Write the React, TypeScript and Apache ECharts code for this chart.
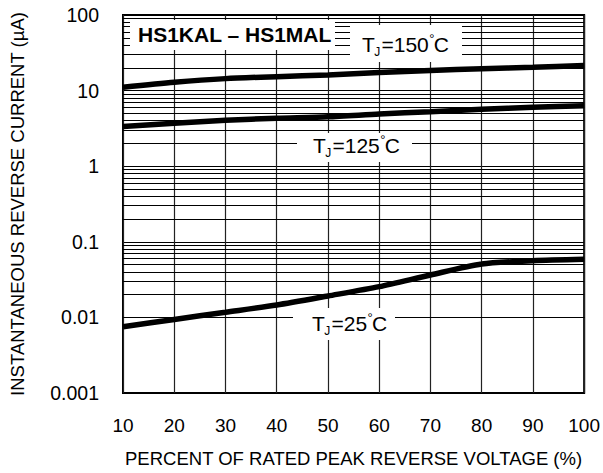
import React, { useEffect, useRef } from "react";
import * as echarts from "echarts";

const FONT = "'Liberation Sans', Arial, Helvetica, sans-serif";

const xCategories = [10, 20, 30, 40, 50, 60, 70, 80, 90, 100];
const tj150 = [11.1, 12.9, 14.4, 15.3, 16.1, 17.3, 18.5, 19.4, 20.3, 21.4];
const tj125 = [3.35, 3.7, 4.05, 4.3, 4.5, 4.9, 5.26, 5.66, 6.0, 6.3];
const tj25 = [0.0075, 0.0094, 0.0117, 0.0146, 0.0192, 0.0255, 0.0364, 0.0508, 0.0562, 0.0587];
const yTickLabels = ["0.001", "0.01", "0.1", "1", "10", "100"];
const decades = [0.001, 0.01, 0.1, 1, 10];
const minorMultipliers = [2, 3, 4, 5, 6, 7, 8, 9];
const xTitle = "PERCENT OF RATED PEAK REVERSE VOLTAGE (%)";
const yTitle = "INSTANTANEOUS REVERSE CURRENT (\u00B5A)";
const chartTitle = "HS1KAL \u2013 HS1MAL";
const tempLabels = ["150", "125", "25"];

function tjLabel(x: number, yc: number, temp: string) {
  const big = 21;
  const eqW = 0.584 * big + 0.556 * big * temp.length;
  const base = { fontFamily: FONT, fill: "#000", align: "left", verticalAlign: "middle" };
  return [
    { type: "text", x, y: yc, z: 101, style: { ...base, text: "T", fontSize: big } },
    { type: "text", x: x + 12.3, y: yc + 8, z: 101, style: { ...base, text: "J", fontSize: 12 } },
    { type: "text", x: x + 19.5, y: yc, z: 101, style: { ...base, text: "=" + temp, fontSize: big } },
    { type: "text", x: x + 19.5 + eqW + 0.5, y: yc - 6, z: 101, style: { ...base, text: "\u00B0", fontSize: 13 } },
    { type: "text", x: x + 19.5 + eqW + 5, y: yc, z: 101, style: { ...base, text: "C", fontSize: big } },
  ];
}

function whiteBox(x1: number, y1: number, x2: number, y2: number) {
  return {
    type: "rect",
    z: 100,
    shape: { x: x1, y: y1, width: x2 - x1, height: y2 - y1 },
    style: { fill: "#fff", stroke: "none" },
  };
}

export default function App() {
  const ref = useRef<HTMLDivElement>(null);
  useEffect(() => {
    if (!ref.current) return;
    const chart = echarts.init(ref.current, null, { renderer: "svg" });
    const minorLines: any[] = [];
    decades.forEach((d) => minorMultipliers.forEach((m) => minorLines.push({ yAxis: +(d * m).toPrecision(3) })));
    const lineSeries = (name: string, values: number[]) => ({
      name,
      type: "line",
      data: xCategories.map((x, i) => [x, values[i]]),
      symbol: "none",
      smooth: 0.25,
      lineStyle: { color: "#000", width: 5.5 },
      z: 5,
    });
    const s25: any = lineSeries("25", tj25);
    s25.markLine = {
      silent: true,
      symbol: "none",
      label: { show: false },
      lineStyle: { color: "#000", width: 1, type: "solid" },
      data: minorLines,
      z: 1,
    };
    chart.setOption({
      animation: false,
      grid: {
        left: 120,
        right: 15,
        top: 15,
        bottom: 80,
        show: true,
        borderColor: "#000",
        borderWidth: 2,
      },
      xAxis: {
        type: "value",
        min: 10,
        max: 100,
        interval: 10,
        axisLine: { show: false },
        axisTick: { show: false },
        splitLine: { show: true, lineStyle: { color: "#222", width: 1.2 } },
        axisLabel: { color: "#000", fontSize: 19, fontFamily: FONT, margin: 23 },
        name: xTitle,
        nameLocation: "middle",
        nameGap: 56,
        nameTextStyle: { color: "#000", fontSize: 18.5, fontFamily: FONT },
      },
      yAxis: {
        type: "log",
        logBase: 10,
        min: 0.001,
        max: 100,
        axisLine: { show: false },
        axisTick: { show: false },
        splitLine: { show: true, lineStyle: { color: "#000", width: 1.2 } },
        axisLabel: {
          color: "#000",
          fontSize: 19.5,
          fontFamily: FONT,
          margin: 24,
          formatter: (v: number) => yTickLabels[Math.round(Math.log10(v)) + 3] ?? "",
        },
        name: yTitle,
        nameLocation: "middle",
        nameGap: 96,
        nameTextStyle: { color: "#000", fontSize: 18.5, fontFamily: FONT },
      },
      series: [lineSeries("150", tj150), lineSeries("125", tj125), s25],
      graphic: [
        whiteBox(130, 20, 335, 50),
        {
          type: "text",
          x: 138,
          y: 34.5,
          z: 101,
          style: {
            text: chartTitle,
            fontFamily: FONT,
            fontWeight: "bold",
            fontSize: 21,
            fill: "#000",
            align: "left",
            verticalAlign: "middle",
          },
        },
        whiteBox(350, 25, 462, 62),
        ...tjLabel(362, 44, tempLabels[0]),
        whiteBox(297, 133, 412, 162),
        ...tjLabel(313, 145, tempLabels[1]),
        whiteBox(293, 308, 395, 340),
        ...tjLabel(312, 323, tempLabels[2]),
      ],
    });
    return () => chart.dispose();
  }, []);
  return <div ref={ref} style={{ position: "absolute", left: 0, top: 0, width: 603, height: 473 }} />;
}
